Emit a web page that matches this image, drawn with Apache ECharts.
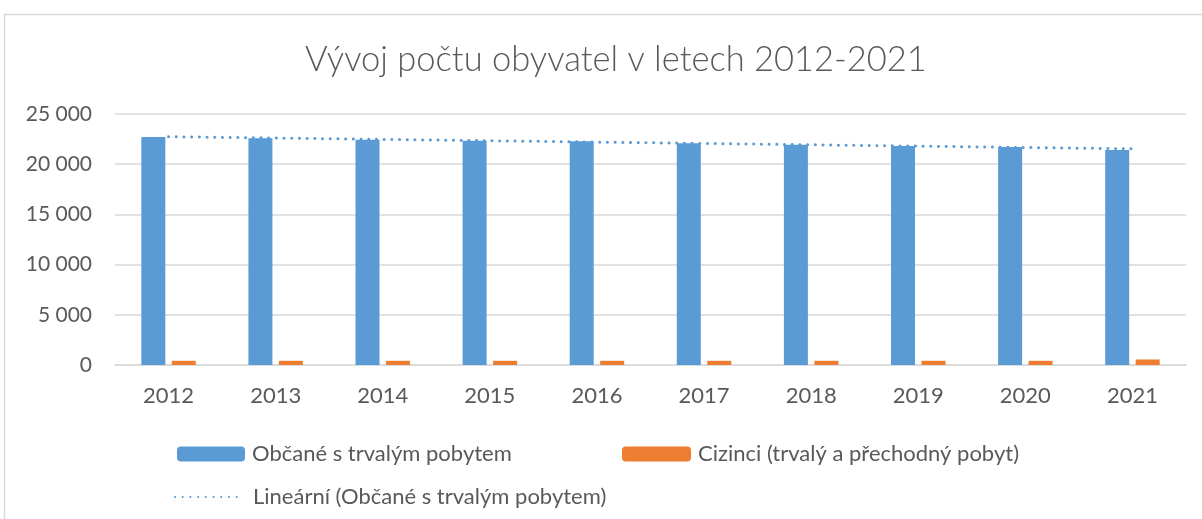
<!DOCTYPE html>
<html>
<head>
<meta charset="utf-8">
<script src="https://cdn.jsdelivr.net/npm/echarts@6/dist/echarts.min.js"></script>
<style>
  html, body { margin: 0; padding: 0; background: #fff; }
  #chart { width: 1202px; height: 519px; }
</style>
</head>
<body>
<div id="chart"></div>
<script>
var years = ['2012', '2013', '2014', '2015', '2016', '2017', '2018', '2019', '2020', '2021'];
var obcane = [22710, 22580, 22440, 22340, 22285, 22085, 21945, 21815, 21715, 21420];
var cizinci = [420, 420, 420, 420, 420, 420, 420, 420, 420, 550];

var nameObcane = 'Občané s trvalým pobytem';
var nameCizinci = 'Cizinci (trvalý a přechodný pobyt)';
var nameTrend = 'Lineární (Občané s trvalým pobytem)';

// linearni trend jako v excelu (nejmensi ctverce)
function linearTrend(vals) {
    var n = vals.length, sx = 0, sy = 0, sxy = 0, sxx = 0;
    for (var i = 0; i < n; i++) {
        sx += i; sy += vals[i]; sxy += i * vals[i]; sxx += i * i;
    }
    var b = (n * sxy - sx * sy) / (n * sxx - sx * sx);
    var a = (sy - b * sx) / n;
    return vals.map(function (v, i) { return a + b * i; });
}

var font = 'Lato';
var textColor = '#595959';

var myChart = echarts.init(document.getElementById('chart'));
var option = {
    animation: false,
    backgroundColor: '#fff',
    graphic: [{
        type: 'rect',
        shape: { x: 4.5, y: 14.5, width: 1230, height: 540 },
        style: { fill: 'none', stroke: '#d9d9d9', lineWidth: 1.5 },
        silent: true
    }],
    title: {
        text: 'Vývoj počtu obyvatel v letech 2012-2021',
        left: 300,
        top: 37,
        textStyle: { fontFamily: font, fontWeight: 300, fontSize: 34.5, color: textColor }
    },
    legend: [
        {
            data: [nameObcane], left: 177, top: 443, padding: 0, itemWidth: 68, itemHeight: 15,
            textStyle: { fontFamily: font, fontSize: 22, color: textColor, padding: [0, 0, 0, 2] }
        },
        {
            data: [nameCizinci], left: 622, top: 443, padding: 0, itemWidth: 69, itemHeight: 15,
            textStyle: { fontFamily: font, fontSize: 22, color: textColor, padding: [0, 0, 0, 2] }
        },
        {
            data: [{ name: nameTrend, itemStyle: { opacity: 0 } }], left: 174, top: 486, padding: 0,
            itemWidth: 66, itemHeight: 15,
            textStyle: { fontFamily: font, fontSize: 22, color: textColor, padding: [0, 0, 0, 7] }
        }
    ],
    grid: { left: 115, right: 16, top: 114, bottom: 154 },
    xAxis: {
        type: 'category',
        data: years,
        axisLine: { lineStyle: { color: '#d9d9d9', width: 1.5 } },
        axisTick: { show: false },
        axisLabel: { fontFamily: font, fontSize: 22, color: textColor, margin: 20 }
    },
    yAxis: {
        type: 'value',
        min: 0,
        max: 25000,
        interval: 5000,
        axisLine: { show: false },
        axisTick: { show: false },
        splitLine: { lineStyle: { color: '#d9d9d9', width: 1.5 } },
        axisLabel: {
            fontFamily: font, fontSize: 21, color: textColor, margin: 23,
            formatter: function (v) { return String(v).replace(/\B(?=(\d{3})+(?!\d))/g, ' '); }
        }
    },
    series: [
        {
            name: nameObcane,
            type: 'bar',
            data: obcane,
            barWidth: 24,
            barGap: '27%',
            itemStyle: { color: '#5b9bd5' }
        },
        {
            name: nameCizinci,
            type: 'bar',
            data: cizinci,
            barWidth: 24,
            itemStyle: { color: '#ed7d31' }
        },
        {
            name: nameTrend,
            type: 'line',
            data: linearTrend(obcane),
            symbol: 'none',
            z: 5,
            itemStyle: { color: '#5b9bd5' },
            lineStyle: { color: '#5b9bd5', width: 3, type: [0.1, 7.6], cap: 'round' }
        }
    ]
};
myChart.setOption(option);
</script>
</body>
</html>
